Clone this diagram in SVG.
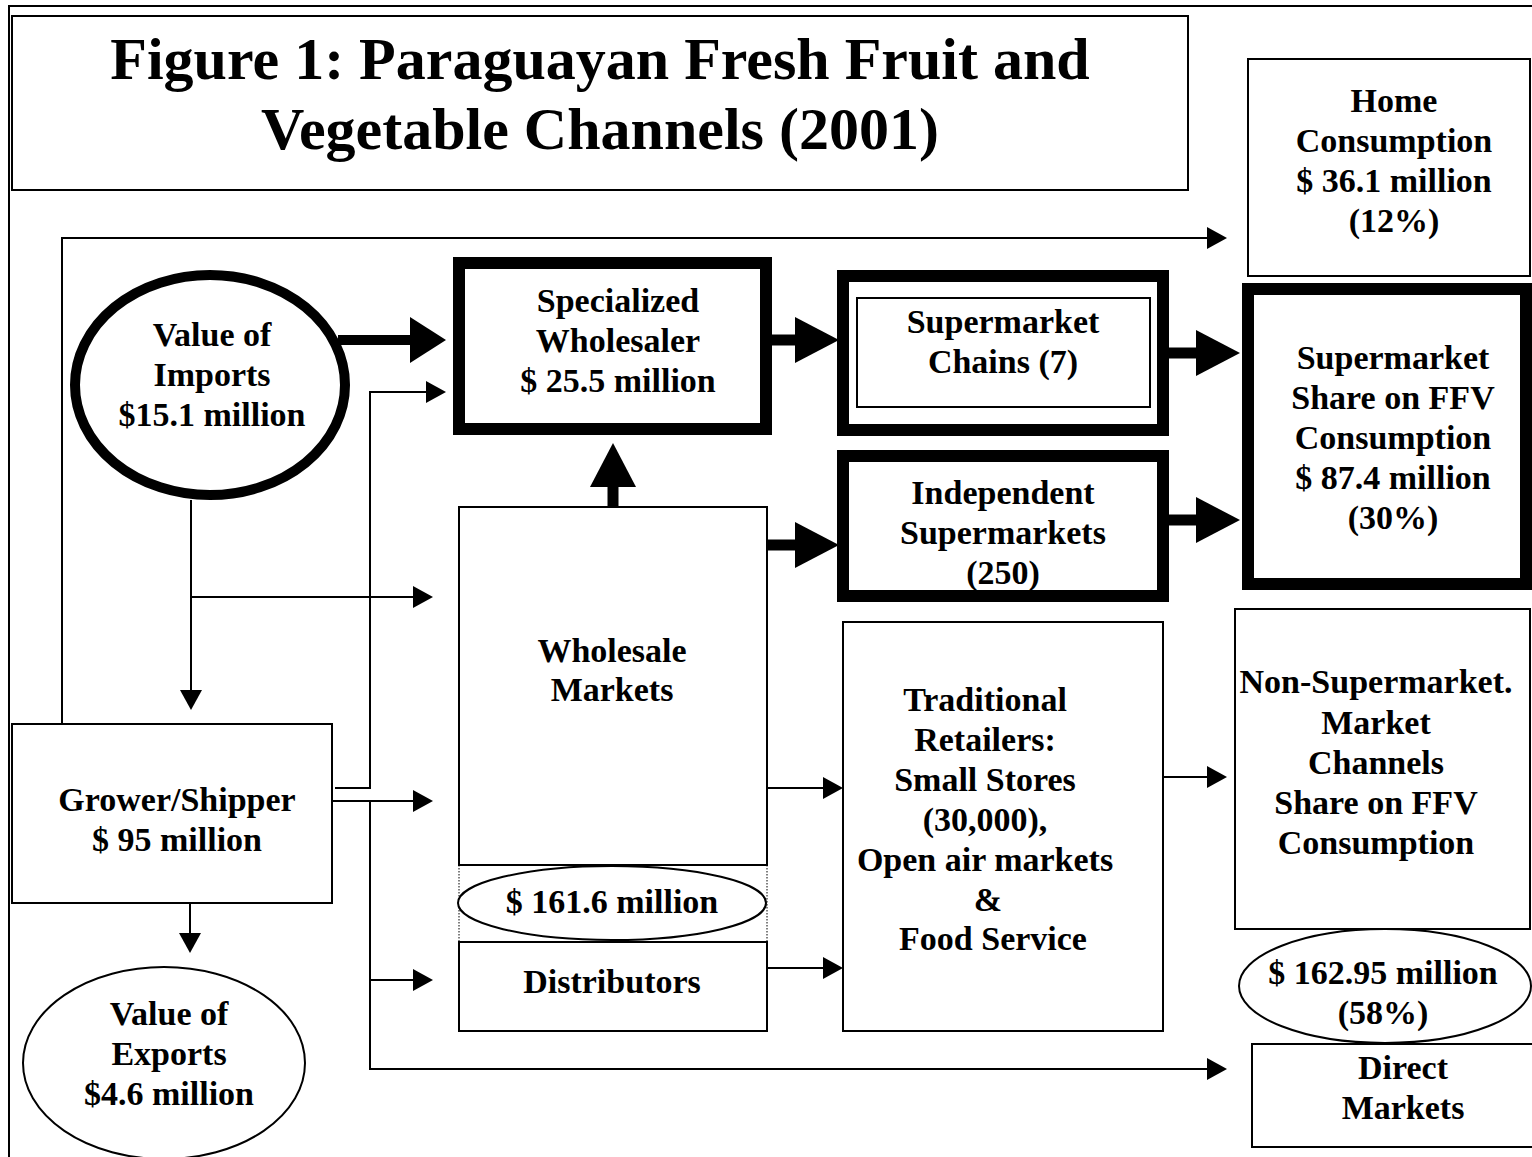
<svg xmlns="http://www.w3.org/2000/svg" width="1532" height="1157" viewBox="0 0 1532 1157">
<style>
text{font-family:"Liberation Serif","Times New Roman",serif;font-weight:bold;font-size:34px;text-anchor:middle;fill:#000}
.title{font-size:60px}
.box{fill:#fff;stroke:#000;stroke-width:2}
.thick{fill:#fff;stroke:#000;stroke-width:12}
.thin{fill:none;stroke:#000;stroke-width:2}
.fat{fill:none;stroke:#000;stroke-width:11}
.dot{fill:none;stroke:#000;stroke-width:1;stroke-dasharray:1.5 1.5}
</style>
<defs>
<marker id="ah" viewBox="0 -11 20 22" refX="0" refY="0" markerWidth="20" markerHeight="22" markerUnits="userSpaceOnUse" orient="auto"><path d="M0,-11 L20,0 L0,11 z" fill="#000"/></marker>
<marker id="ahb" viewBox="0 -23 44 46" refX="0" refY="0" markerWidth="44" markerHeight="46" markerUnits="userSpaceOnUse" orient="auto"><path d="M0,-23 L44,0 L0,23 z" fill="#000"/></marker>
<marker id="ahi" viewBox="0 -23 36 46" refX="0" refY="0" markerWidth="36" markerHeight="46" markerUnits="userSpaceOnUse" orient="auto"><path d="M0,-23 L36,0 L0,23 z" fill="#000"/></marker>
</defs>
<rect x="0" y="0" width="1532" height="1157" fill="#fff"/>
<rect x="9" y="6" width="1600" height="1200" fill="none" stroke="#000" stroke-width="2"/>

<g id="connectors">
<path class="thin" d="M62,724 V238 H1207" marker-end="url(#ah)"/>
<path class="thin" d="M191,500 V690" marker-end="url(#ah)"/>
<path class="thin" d="M191,597 H413" marker-end="url(#ah)"/>
<path class="thin" d="M335,788 H370 V392 H426" marker-end="url(#ah)"/>
<path class="thin" d="M332,801 H413" marker-end="url(#ah)"/>
<path class="thin" d="M370,801 V1069 H1207" marker-end="url(#ah)"/>
<path class="thin" d="M370,980 H413" marker-end="url(#ah)"/>
<path class="thin" d="M190,903 V933" marker-end="url(#ah)"/>
<path class="thin" d="M767,788 H823" marker-end="url(#ah)"/>
<path class="thin" d="M767,968 H823" marker-end="url(#ah)"/>
<path class="thin" d="M1163,777 H1207" marker-end="url(#ah)"/>
<path class="fat" style="stroke-width:10" d="M338,340 H410" marker-end="url(#ahi)"/>
<path class="fat" d="M772,340 H795" marker-end="url(#ahb)"/>
<path class="fat" d="M767,545 H795" marker-end="url(#ahb)"/>
<path class="fat" d="M1169,353 H1196" marker-end="url(#ahb)"/>
<path class="fat" d="M1169,520 H1196" marker-end="url(#ahb)"/>
<path class="fat" d="M613,508 V487" marker-end="url(#ahb)"/>
</g>

<g id="title">
<rect class="box" x="12" y="16" width="1176" height="174" stroke-width="2.5"/>
<text class="title" x="600" y="79">Figure 1: Paraguayan Fresh Fruit and</text>
<text class="title" x="600" y="149">Vegetable Channels (2001)</text>
</g>

<g id="home">
<rect class="box" x="1248" y="59" width="282" height="217"/>
<text x="1394" y="112">Home</text>
<text x="1394" y="152">Consumption</text>
<text x="1394" y="192">$ 36.1 million</text>
<text x="1394" y="232">(12%)</text>
</g>

<g id="imports">
<ellipse cx="210" cy="385" rx="135" ry="110" fill="#fff" stroke="#000" stroke-width="10"/>
<text x="212" y="346">Value of</text>
<text x="212" y="386">Imports</text>
<text x="212" y="426">$15.1 million</text>
</g>

<g id="specialized">
<rect class="thick" x="459" y="263" width="307" height="166"/>
<text x="618" y="312">Specialized</text>
<text x="618" y="352">Wholesaler</text>
<text x="618" y="392">$ 25.5 million</text>
</g>

<g id="chains">
<rect class="thick" x="843" y="276" width="320" height="154"/>
<rect class="box" x="857" y="298" width="293" height="109"/>
<text x="1003" y="333">Supermarket</text>
<text x="1003" y="373">Chains (7)</text>
</g>

<g id="independent">
<rect class="thick" x="843" y="456" width="320" height="140"/>
<text x="1003" y="504">Independent</text>
<text x="1003" y="544">Supermarkets</text>
<text x="1003" y="584">(250)</text>
</g>

<g id="share">
<rect class="thick" x="1248" y="289" width="278" height="295"/>
<text x="1393" y="369">Supermarket</text>
<text x="1393" y="409">Share on FFV</text>
<text x="1393" y="449">Consumption</text>
<text x="1393" y="489">$ 87.4 million</text>
<text x="1393" y="529">(30%)</text>
</g>

<g id="wholesale">
<rect class="box" x="459" y="507" width="308" height="358"/>
<text x="612" y="662">Wholesale</text>
<text x="612" y="701">Markets</text>
<line class="dot" x1="459" y1="865" x2="459" y2="942"/>
<line class="dot" x1="767" y1="865" x2="767" y2="942"/>
<ellipse cx="612" cy="903" rx="154" ry="37" fill="#fff" stroke="#000" stroke-width="2"/>
<text x="612" y="913">$ 161.6 million</text>
</g>

<g id="distributors">
<rect class="box" x="459" y="942" width="308" height="89"/>
<text x="612" y="993">Distributors</text>
</g>

<g id="traditional">
<rect class="box" x="843" y="622" width="320" height="409"/>
<text x="985" y="711">Traditional</text>
<text x="985" y="751">Retailers:</text>
<text x="985" y="791">Small Stores</text>
<text x="985" y="831">(30,000),</text>
<text x="985" y="871">Open air markets</text>
<text x="988" y="911">&amp;</text>
<text x="993" y="950">Food Service</text>
</g>

<g id="nonsuper">
<rect class="box" x="1235" y="609" width="295" height="320"/>
<text x="1376" y="693">Non-Supermarket.</text>
<text x="1376" y="734">Market</text>
<text x="1376" y="774">Channels</text>
<text x="1376" y="814">Share on FFV</text>
<text x="1376" y="854">Consumption</text>
</g>

<g id="nonsuper-value">
<ellipse cx="1385" cy="986" rx="146" ry="57" fill="#fff" stroke="#000" stroke-width="2"/>
<text x="1383" y="984">$ 162.95 million</text>
<text x="1383" y="1024">(58%)</text>
</g>

<g id="direct">
<rect class="box" x="1252" y="1044" width="290" height="103"/>
<text x="1403" y="1079">Direct</text>
<text x="1403" y="1119">Markets</text>
</g>

<g id="grower">
<rect class="box" x="12" y="724" width="320" height="179"/>
<text x="177" y="811">Grower/Shipper</text>
<text x="177" y="851">$ 95 million</text>
</g>

<g id="exports">
<ellipse cx="164" cy="1063" rx="141" ry="96" fill="#fff" stroke="#000" stroke-width="2"/>
<text x="169" y="1025">Value of</text>
<text x="169" y="1065">Exports</text>
<text x="169" y="1105">$4.6 million</text>
</g>
</svg>
